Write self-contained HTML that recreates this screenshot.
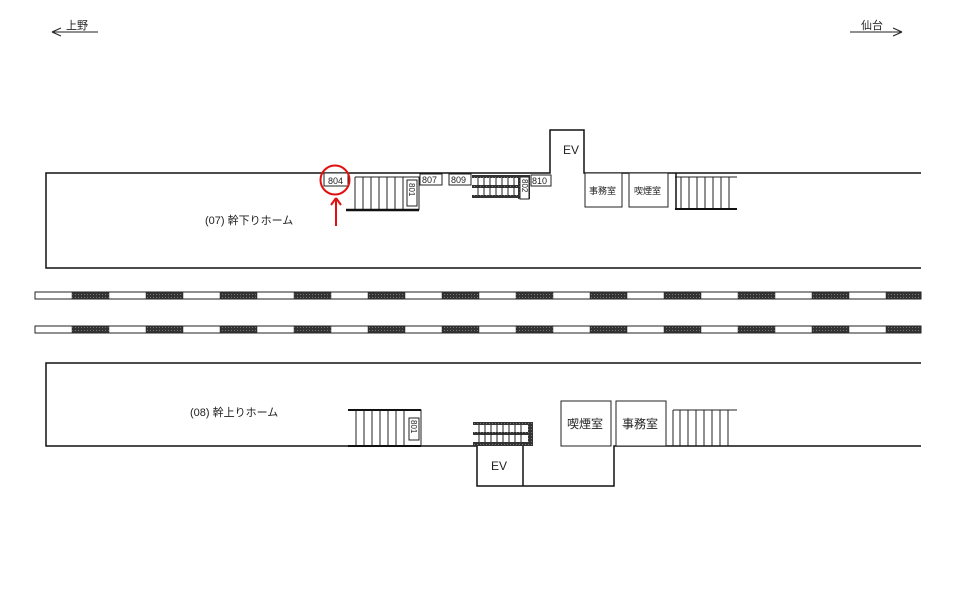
<!DOCTYPE html>
<html><head><meta charset="utf-8"><style>body{margin:0;background:#fff}svg{display:block}text{font-family:"Liberation Sans","Noto Sans CJK JP",sans-serif;fill:#222}</style></head><body>
<svg width="960" height="605" viewBox="0 0 960 605" xmlns="http://www.w3.org/2000/svg">
<defs>
<pattern id="dk" width="3" height="3" patternUnits="userSpaceOnUse"><rect width="3" height="3" fill="#333"/><rect width="1" height="1" fill="#777"/></pattern>
</defs>
<g stroke="#222" fill="none" stroke-width="1">
<!-- direction arrows -->
<path d="M52 32H98M52 32l9-4M52 32l9 4"/>
<path d="M850 32H902M902 32l-9-4M902 32l-9 4"/>
</g>
<text x="66" y="29" font-size="11">上野</text>
<text x="861" y="29" font-size="11">仙台</text>

<!-- top platform -->
<g stroke="#111" fill="none" stroke-width="1.5">
<path d="M921 173H584V130H550V173H46V268H921"/>
</g>
<g stroke="#222" fill="#fff" stroke-width="1">
<rect x="324" y="173" width="24" height="13"/>
<!-- stairs 1 -->
<path d="M355 177V210M363 177V210M371 177V210M379 177V210M387 177V210M395 177V210M403 177V210"/>
<path d="M355 177H419V210" fill="none"/>
<rect x="407" y="180" width="10" height="26"/>
<rect x="420" y="174" width="22" height="11"/>
<rect x="449" y="174" width="22" height="11"/>
<rect x="531" y="175" width="20" height="11"/>
<rect x="585" y="173" width="37" height="34"/>
<rect x="629" y="173" width="39" height="34"/>
<path d="M681 177V209M689 177V209M697 177V209M705 177V209M713 177V209M721 177V209M729 177V209"/>
<path d="M675 177H737"/>
</g>
<path d="M346 210H419" stroke="#111" stroke-width="2.5"/>
<path d="M675 209H737" stroke="#111" stroke-width="2"/>
<path d="M676 173V209" stroke="#111" stroke-width="1.5"/>
<!-- escalator top -->
<rect x="472" y="175" width="58" height="3" fill="url(#dk)"/>
<rect x="472" y="185" width="58" height="3" fill="url(#dk)"/>
<rect x="472" y="195" width="58" height="3" fill="url(#dk)"/>
<g stroke="#222" stroke-width="1"><path d="M478 178V196M484 178V196M490 178V196M496 178V196M502 178V196M508 178V196M514 178V196"/></g>
<rect x="518" y="175" width="12" height="24" fill="url(#dk)"/>
<rect x="520" y="177" width="9" height="22" fill="#fff" stroke="#222"/>
<text x="407" y="157" font-size="8"> </text>
<text x="563" y="154" font-size="12">EV</text>
<text x="328" y="184" font-size="9">804</text>
<text transform="translate(409,183) rotate(90)" font-size="8">801</text>
<text x="422" y="183" font-size="9">807</text>
<text x="451" y="183" font-size="9">809</text>
<text transform="translate(522,179) rotate(90)" font-size="8">802</text>
<text x="532" y="184" font-size="9">810</text>
<text x="589" y="194" font-size="9">事務室</text>
<text x="634" y="194" font-size="9">喫煙室</text>
<text x="205" y="224" font-size="11">(07) 幹下りホーム</text>
<circle cx="335" cy="180" r="14.5" fill="none" stroke="#e01010" stroke-width="2"/>
<path d="M336 226V199M336 198l-5 7M336 198l5 7" stroke="#e01010" stroke-width="2" fill="none"/>

<!-- tracks -->
<g stroke="#222" stroke-width="1">
<rect x="35" y="292" width="886" height="7" fill="#fff"/>
<rect x="35" y="326" width="886" height="7" fill="#fff"/>
</g>
<g fill="url(#dk)" stroke="#222" stroke-width="0.5">
<rect x="72" y="292" width="37" height="7"/><rect x="146" y="292" width="37" height="7"/><rect x="220" y="292" width="37" height="7"/><rect x="294" y="292" width="37" height="7"/><rect x="368" y="292" width="37" height="7"/><rect x="442" y="292" width="37" height="7"/><rect x="516" y="292" width="37" height="7"/><rect x="590" y="292" width="37" height="7"/><rect x="664" y="292" width="37" height="7"/><rect x="738" y="292" width="37" height="7"/><rect x="812" y="292" width="37" height="7"/><rect x="886" y="292" width="35" height="7"/>
<rect x="72" y="326" width="37" height="7"/><rect x="146" y="326" width="37" height="7"/><rect x="220" y="326" width="37" height="7"/><rect x="294" y="326" width="37" height="7"/><rect x="368" y="326" width="37" height="7"/><rect x="442" y="326" width="37" height="7"/><rect x="516" y="326" width="37" height="7"/><rect x="590" y="326" width="37" height="7"/><rect x="664" y="326" width="37" height="7"/><rect x="738" y="326" width="37" height="7"/><rect x="812" y="326" width="37" height="7"/><rect x="886" y="326" width="35" height="7"/>
</g>

<!-- bottom platform -->
<g stroke="#111" fill="none" stroke-width="1.5">
<path d="M921 363H46V446H477V486H523V446M523 486H614V446H921"/>
</g>
<g stroke="#222" fill="#fff" stroke-width="1">
<path d="M356 410V446M364 410V446M372 410V446M380 410V446M388 410V446M396 410V446M404 410V446"/>
<path d="M348 410H421V446" fill="none"/>
<rect x="409" y="418" width="10" height="22"/>
<rect x="561" y="401" width="50" height="45"/>
<rect x="616" y="401" width="50" height="45"/>
<path d="M680 410V446M688 410V446M696 410V446M704 410V446M712 410V446M720 410V446M728 410V446"/>
<path d="M673 410H737M673 410V446"/>
</g>
<path d="M348 410H421M348 446H421" stroke="#111" stroke-width="2"/>
<rect x="473" y="422" width="60" height="3" fill="url(#dk)"/>
<rect x="473" y="432" width="60" height="3" fill="url(#dk)"/>
<rect x="473" y="442" width="60" height="4" fill="url(#dk)"/>
<rect x="528" y="422" width="5" height="24" fill="url(#dk)"/>
<g stroke="#222" stroke-width="1"><path d="M479 425V442M485 425V442M491 425V442M497 425V442M503 425V442M509 425V442M515 425V442M521 425V442"/></g>
<text transform="translate(411,420) rotate(90)" font-size="8">801</text>
<text x="491" y="470" font-size="12">EV</text>
<text x="567" y="428" font-size="12">喫煙室</text>
<text x="622" y="428" font-size="12">事務室</text>
<text x="190" y="416" font-size="11">(08) 幹上りホーム</text>
</svg>
</body></html>
